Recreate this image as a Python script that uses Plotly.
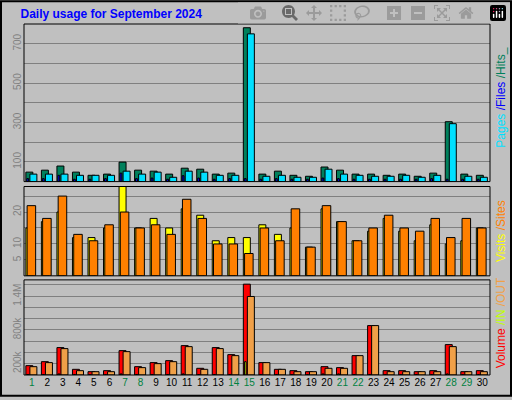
import plotly.graph_objects as go

days = list(range(1, 31))
weekend = {1, 7, 8, 14, 15, 21, 22, 28, 29}
hits = [48,58,79,48,32,38,99,58,53,38,68,63,38,43,781,38,53,32,27,74,58,38,38,32,38,27,43,304,38,32]
files = [38,38,38,32,32,32,53,38,48,22,53,48,32,32,750,27,32,22,22,63,38,32,27,27,32,22,32,294,27,22]
pages = [15,15,32,12,12,15,43,15,18,12,30,18,12,15,15,12,15,12,12,18,15,12,12,12,12,12,15,12,12,12]
visits = [15,17,20,12,12,15,28,15,18,15,21,19,11,12,12,16,13,15,9,21,17,11,14,18,14,11,16,10,11,15]
sites = [22,18,25,13,11,16,20,15,16,13,24,18,10,10,7,15,11,21,9,22,17,11,15,19,15,14,18,12,18,15]
volume = [166,237,487,101,59,77,433,148,220,255,522,119,487,362,1614,220,101,77,59,148,131,344,878,77,77,59,77,540,59,77]
vol_out = [148,220,469,77,59,59,415,131,202,237,504,101,469,344,1395,220,101,59,59,119,119,344,878,59,59,59,59,504,59,59]
vol_in = [8,8,20,8,5,5,20,8,8,8,20,8,8,8,237,8,5,5,5,20,20,8,8,5,5,5,5,20,5,5]
vol_out = [v * 1000 for v in vol_out]
volume = [v * 1000 for v in volume]
vol_in = [v * 1000 for v in vol_in]

fig = go.Figure()
line = dict(color="black", width=1)

def bar(y, color, off, w, ya):
    fig.add_trace(go.Bar(x=days, y=y, marker=dict(color=color, line=line),
                         offset=off, width=w, yaxis=ya, xaxis="x", showlegend=False))

bar(hits, "#00805C", -0.38, 0.45, "y3")
bar(files, "#00E0FF", -0.12, 0.45, "y3")
bar(pages, "#0000FF", -0.32, 0.12, "y3")
bar(visits, "#FFFF00", -0.38, 0.45, "y2")
bar(sites, "#FF8000", -0.30, 0.55, "y2")
bar(volume, "#FF0000", -0.38, 0.45, "y")
bar(vol_out, "#F0A048", -0.12, 0.45, "y")
bar(vol_in, "#C0FF00", -0.30, 0.10, "y")

ticktext = [f"<span style='color:{'#008040' if d in weekend else 'black'}'>{d}</span>" for d in days]
xcommon = dict(range=[0.5, 30.5], showgrid=False, zeroline=False, showline=False)
gridc = "#808080"
tf = dict(family="Liberation Sans", size=10, color="#808080")
fig.update_layout(
    width=512, height=400, barmode="overlay",
    paper_bgcolor="#C0C0C0", plot_bgcolor="#C0C0C0",
    margin=dict(l=24, r=22, t=24, b=22),
    font=dict(family="Liberation Sans", size=10),
    xaxis=dict(**xcommon, anchor="y", tickvals=days, ticktext=ticktext, ticks="",
               tickfont=dict(family="Liberation Sans", size=10, color="black")),
    yaxis=dict(domain=[0, 0.271], range=[0, 1690000], tickvals=[200000*i for i in range(1, 9)],
               ticktext=["200k","","","800k","","","1.4M",""], tickangle=-90, tickfont=tf,
               gridcolor=gridc, zeroline=False, ticks=""),
    yaxis2=dict(domain=[0.2825, 0.537], range=[0, 28], tickvals=[5,10,15,20,25],
                ticktext=["5","10","","20",""], tickangle=-90, tickfont=tf,
                gridcolor=gridc, zeroline=False, ticks="", anchor="x"),
    yaxis3=dict(domain=[0.551, 1], range=[0, 800], tickvals=[100*i for i in range(1, 8)],
                ticktext=["100","","300","","500","","700"], tickangle=-90, tickfont=tf,
                gridcolor=gridc, zeroline=False, ticks="", anchor="x"),
    title=dict(text="<b>Daily usage for September 2024</b>", x=0.04, xanchor="left",
               y=0.965, yanchor="middle", font=dict(family="Liberation Sans", size=12, color="#0000FF")),
)
shapes = []
for ya in ["y", "y2", "y3"]:
    shapes.append(dict(type="rect", xref="x domain", yref=ya + " domain", x0=0, x1=1, y0=0, y1=1,
                       line=dict(color="black", width=1), layer="above"))
shapes.append(dict(type="rect", xref="paper", yref="paper", x0=-23/466, x1=1+21/466, y0=-21/354, y1=1+23/354,
                   line=dict(color="black", width=2)))
fig.update_layout(shapes=shapes)

def rlabel(parts, yc):
    txt = "".join(f"<span style='color:{c}'>{t}</span>" for t, c in parts)
    fig.add_annotation(text=txt, xref="paper", yref="paper", x=1.0 + 11/466, y=yc, showarrow=False,
                       textangle=-90, font=dict(family="Liberation Sans", size=12), xanchor="center", yanchor="middle")

rlabel([("Pages", "#00E0FF"), (" /Files", "#0000FF"), (" /Hits_", "#00805C")], 0.79)
rlabel([("Visits", "#FFFF00"), (" /Sites", "#FF8000")], 0.41)
rlabel([("Volume", "#FF0000"), (" /IN", "#C0FF00"), (" /OUT", "#F0A048")], 0.15)

fig.write_html("out.html", post_script="document.body.style.margin='0';document.body.style.overflow='hidden';")
